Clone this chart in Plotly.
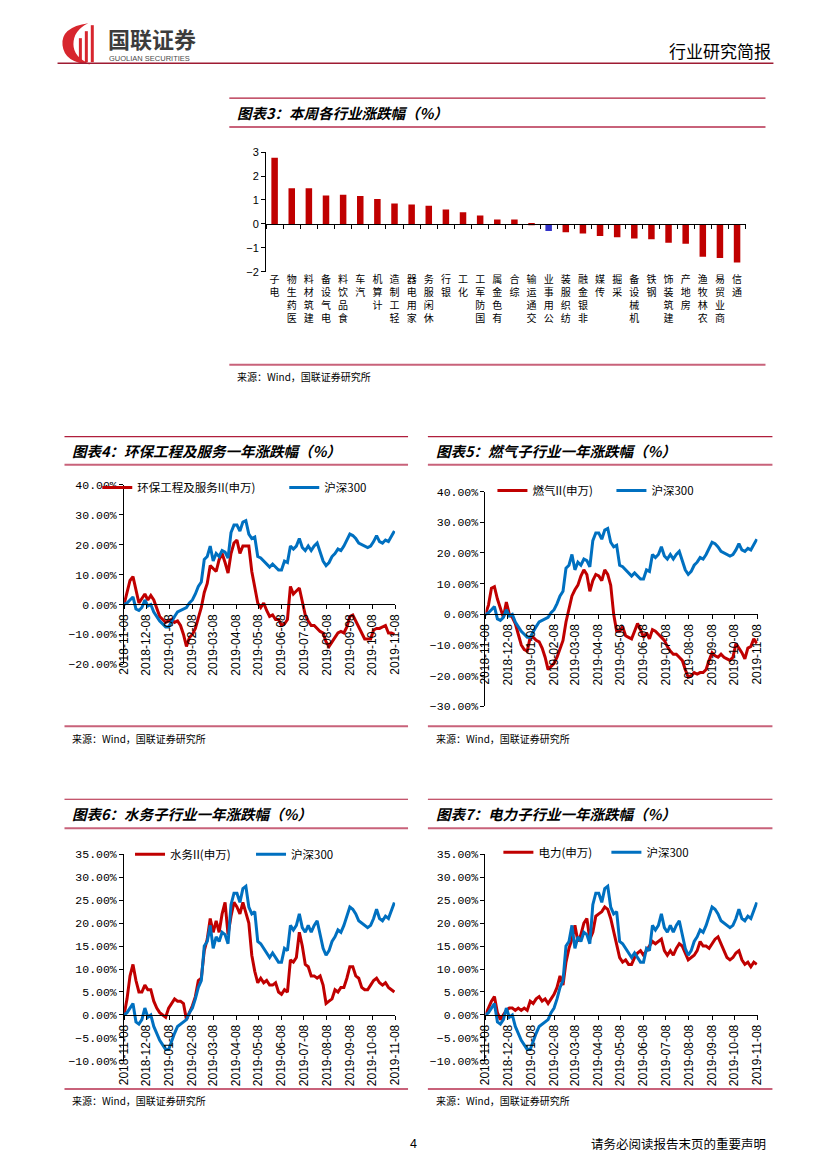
import plotly.graph_objects as go
import pandas as pd

W, H = 827, 1169

# ---------------- data: chart 3 (weekly change by industry, %) ----------------
industries = ["电子", "医药生物", "建筑材料", "电气设备", "食品饮料", "汽车", "计算机",
              "轻工制造", "家用电器", "休闲服务", "银行", "化工", "国防军工", "有色金属",
              "综合", "交通运输", "公用事业", "纺织服装", "非银金融", "传媒", "采掘",
              "机械设备", "钢铁", "建筑装饰", "房地产", "农林牧渔", "商业贸易", "通信"]
weekly_change = [2.76, 1.49, 1.49, 1.19, 1.22, 1.17, 1.04, 0.85, 0.81, 0.76, 0.60, 0.49,
                 0.35, 0.19, 0.19, -0.05, -0.29, -0.35, -0.40, -0.50, -0.55, -0.61, -0.64,
                 -0.78, -0.83, -1.37, -1.42, -1.61]
highlight_industry = "公用事业"

# ---------------- data: one-year change (%), sampled every 4 days ----------------
sample_dates = pd.date_range("2018-11-08", periods=92, freq="4D")
month_ticks = ["2018-11-08", "2018-12-08", "2019-01-08", "2019-02-08", "2019-03-08",
               "2019-04-08", "2019-05-08", "2019-06-08", "2019-07-08", "2019-08-08",
               "2019-09-08", "2019-10-08", "2019-11-08"]

hs300 = [0, 0.5, 1.5, 2.5, -1.5, -2, -1, 1.5, -0.5, 0,
         -2.5, -4, -5.5, -6.5, -7.5, -7.5, -5.5, -4, -2.5, -2,
         -1.5, -1, 0.5, 1.5, 3.5, 6, 7.5, 15, 16, 19.5,
         14.5, 17, 16, 18, 17.5, 15.5, 24, 26.5, 26.5, 24.5,
         27.5, 28, 23.5, 22, 22.5, 16, 15.5, 14.5, 13.5, 12.5,
         13.5, 12.5, 11.5, 11.5, 14.5, 14, 19.5, 18.5, 19.5, 22,
         19, 18, 19.5, 18, 19.5, 20.5, 17.5, 14.5, 13, 14,
         16, 17, 18.5, 18, 19.5, 21.5, 23.5, 23, 22, 20.5,
         20, 19.5, 19, 19.5, 21, 23, 21, 20.5, 21.5, 21,
         23, 24.5]

huanbao = [0, 4, 8, 9.3, 4.5, 0.5, 2, 3.5, 1.5, 3,
           1.5, -1.5, -4, -5, -6, -5.5, -5, -6, -5.5, -7,
           -10, -14, -11, -10, -8, -4.5, -1, 4, 7, 13,
           12, 11, 15, 17, 14, 10.5, 17, 20.5, 21.5, 17,
           19.5, 19.5, 19.5, 11, 5, 0.5, -1, 0.5, -2, -4,
           -3.5, -5, -5, -7, -6.5, -5, 6, 3.5, 4.5, 5.5,
           1, -3.5, -5.5, -7, -7, -8, -9, -9.5, -12.5, -14,
           -12.5, -11, -9.5, -9, -9.5, -7.5, -4, -3.5, -5.5, -7.5,
           -9.5, -11.5, -11.5, -11.5, -8.5, -8, -8, -7.5, -7, -9.5,
           -9.5, -10]

ranqi = [0, 3, 8.5, 9, 5, 2, -1, 4, 0, -1,
         -3, -6.5, -10, -11.5, -12, -7.5, -7.5, -8.5, -9, -11,
         -14, -18, -17, -16, -14, -11.5, -8.5, -2.5, 1.5, 6,
         8, 9.5, 12.5, 14.5, 13, 7.5, 11, 13, 12.5, 11,
         14.5, 13, 9.5, 0, -5.5, -5.5, -4, -7, -7.5, -8,
         -5.5, -3, -5, -7.5, -6, -8, -5, -5.5, -6.5, -7.5,
         -8.5, -10.5, -12, -13, -13, -14, -15, -18, -20.5, -20,
         -19, -19.5, -19, -19, -18, -15, -12.5, -13.5, -14, -13,
         -14, -14.5, -15, -14, -9.5, -11, -12.5, -14.5, -11, -10.5,
         -8, -9.5]

shuiwu = [0, 3.5, 8.5, 11, 7.5, 5, 5, 6.5, 5.5, 5.5,
          3, 1.5, 0.5, 0, -0.5, 1.5, 2.5, 3.5, 3, 3,
          2.5, -1, 0.5, 2, 4, 7.5, 8, 14, 16.5, 21,
          18, 20.5, 18, 22, 24.5, 17.5, 21.5, 24.5, 23.5, 22,
          24.5, 22.5, 20, 13, 9.5, 7, 8, 7, 7.5, 6.5,
          6.5, 7, 5, 4.5, 5.5, 5, 12, 11.5, 12.5, 18,
          15, 11, 10.5, 8.5, 8.5, 8, 8.5, 6.5, 2.5, 3,
          3.5, 5.5, 5, 6, 6, 8, 10.5, 10.5, 8.5, 8,
          6, 5.5, 5.5, 6.5, 7.5, 8, 7, 6.5, 7, 6,
          5.5, 5]

dianli = [0, 1.5, 3, 4, 0.5, -1, 0, 1, 1.5, 1.5,
          1, 1.5, 1, 1.5, 1, 3, 2.5, 3.5, 4, 3,
          3.5, 2.5, 3.5, 4.5, 6, 8.5, 6.5, 11.5, 14.5, 16.5,
          19.5, 16, 17.5, 20, 21, 16.5, 18, 21.5, 22, 22.5,
          23.5, 23, 21, 18, 15.5, 12.5, 11.5, 12, 11, 11,
          12.5, 13.5, 14, 13, 14, 15, 16, 15.5, 16, 16.5,
          14, 13, 14, 13, 14.5, 15.5, 15, 13.5, 12, 12.5,
          13, 14, 16, 15, 15, 14.5, 15.5, 16.5, 17, 15.5,
          14, 12.5, 12, 12.5, 13.5, 14, 12, 11, 11.5, 10.5,
          11.5, 11]

RED = "#C00000"
BLUE = "#0070C0"
BAR_BLUE = "#3232C8"
LINE_RED = "#B01E3C"
LINE_PINK = "#C8627A"
CJK = "Noto Sans CJK SC"

# page-coordinate calibration (slight expansion about the page centre)
S = 1.01
CX, CY = W / 2, H / 2


def px(x):
    return (CX + (x - CX) * S) / W


def py(y):
    return 1 - (CY + (y - CY) * S) / H


fig = go.Figure()
shapes = []
annotations = []


def hline(x0, x1, y, color, width):
    shapes.append(dict(type="line", xref="paper", yref="paper", x0=px(x0), x1=px(x1),
                       y0=py(y), y1=py(y), line=dict(color=color, width=width)))


def text(x, y, s, size, color="black", xanchor="left", family=CJK):
    annotations.append(dict(xref="paper", yref="paper", x=px(x), y=py(y), text=s,
                            showarrow=False, xanchor=xanchor, yanchor="middle",
                            font=dict(size=size, color=color, family=family)))


# ---------------- header ----------------
logo = "M {0} {1} Q {2} {3} {4} {5} Q {6} {7} {8} {9} Q {10} {11} {12} {13} Q {14} {15} {0} {1} Z".format(
    px(86), py(23), px(58), py(27), px(60), py(45), px(62), py(63), px(88), py(64),
    px(71), py(57), px(71), py(44), px(71), py(30))
shapes.append(dict(type="path", xref="paper", yref="paper", path=logo,
                   fillcolor="#D7262E", line=dict(width=0)))
for bx, top in [(78, 38), (84, 31), (90, 25)]:
    shapes.append(dict(type="line", xref="paper", yref="paper", x0=px(bx), x1=px(bx),
                       y0=py(top), y1=py(62), line=dict(color="#D7262E", width=3)))
text(104, 38, "<b>国联证券</b>", 22, color="#3C3C3C")
text(105, 58.5, "GUOLIAN SECURITIES", 7.5, color="#4A4A4A", family="Liberation Sans")
text(776, 50, "行业研究简报", 17, xanchor="right")
hline(55, 776, 63, "#9E1B32", 1.5)

# ---------------- section frames ----------------
sections = [
    (228, 768, 98, 127, 365, "图表3：本周各行业涨跌幅（%）"),
    (62, 408, 437, 465, 727, "图表4：环保工程及服务一年涨跌幅（%）"),
    (428, 775, 437, 465, 727, "图表5：燃气子行业一年涨跌幅（%）"),
    (62, 408, 800, 829, 1090, "图表6：水务子行业一年涨跌幅（%）"),
    (428, 775, 800, 829, 1090, "图表7：电力子行业一年涨跌幅（%）"),
]
for x0, x1, ytop, ybot, ysrc, title in sections:
    hline(x0, x1, ytop, LINE_RED, 1.2)
    hline(x0, x1, ybot, LINE_PINK, 2)
    hline(x0, x1, ysrc, LINE_PINK, 2)
    text(x0 + 6, (ytop + ybot) / 2, "<b><i>" + title + "</i></b>", 14.5)
    text(x0 + 6, ysrc + 12, "来源：Wind，国联证券研究所", 10)

# footer
text(413, 1145, "4", 12.5, xanchor="center", family="Liberation Sans")
text(771, 1145, "请务必阅读报告末页的重要声明", 12.5, xanchor="right")

# ---------------- chart 3: bars ----------------
bar_colors = [BAR_BLUE if c == highlight_industry else RED for c in industries]
fig.add_trace(go.Bar(x=industries, y=weekly_change, marker_color=bar_colors,
                     marker_line_width=0, xaxis="x", yaxis="y", showlegend=False))
fig.add_trace(go.Scatter(x=industries, y=[None] * len(industries), mode="lines",
                         xaxis="x2", yaxis="y", showlegend=False, hoverinfo="skip"))

bar_xdom = [px(265), px(748)]
bar_ydom = [py(272), py(152)]
bar_lo, bar_hi = -2, 3
bar_zero = bar_ydom[0] + (0 - bar_lo) / (bar_hi - bar_lo) * (bar_ydom[1] - bar_ydom[0])
stacked = ["<br>".join(reversed(list(c))) for c in industries]

layout_axes = dict(
    xaxis=dict(domain=bar_xdom, type="category", range=[-0.5, len(industries) - 0.5],
               anchor="y", showline=False, ticks="", tickvals=industries, ticktext=stacked,
               tickangle=0, tickfont=dict(size=10, family=CJK), showgrid=False,
               zeroline=False, fixedrange=True),
    xaxis2=dict(domain=bar_xdom, type="category", range=[-0.5, len(industries) - 0.5],
                overlaying="x", anchor="free", position=bar_zero, showline=True,
                linecolor="black", linewidth=1, ticks="outside", ticklen=4,
                tickcolor="black", tickson="boundaries", showticklabels=False,
                showgrid=False, zeroline=False),
    yaxis=dict(domain=bar_ydom, range=[bar_lo, bar_hi], dtick=1, anchor="x", showline=True,
               linecolor="black", linewidth=1, ticks="outside", ticklen=4, tickcolor="black",
               showgrid=False, zeroline=False, tickfont=dict(size=11, family="Liberation Sans")),
)

# ---------------- line charts ----------------
panels = [
    dict(k=3, xr=(122, 395), yr=(485, 665), lo=-20, hi=40, dtick=10,
         name="环保工程及服务II(申万)", vals=huanbao, leg="legend", lx=103, ly=488, ew=142),
    dict(k=4, xr=(486, 760), yr=(492, 707), lo=-30, hi=40, dtick=10,
         name="燃气II(申万)", vals=ranqi, leg="legend2", lx=501, ly=491, ew=74),
    dict(k=5, xr=(122, 395), yr=(855, 1062), lo=-10, hi=35, dtick=5,
         name="水务II(申万)", vals=shuiwu, leg="legend3", lx=136, ly=855, ew=76),
    dict(k=6, xr=(486, 760), yr=(855, 1062), lo=-10, hi=35, dtick=5,
         name="电力(申万)", vals=dianli, leg="legend4", lx=507, ly=853, ew=63),
]
legends = {}
for p in panels:
    k = p["k"]
    xa, ya = "x%d" % k, "y%d" % k
    fig.add_trace(go.Scatter(x=sample_dates, y=p["vals"], mode="lines", name=p["name"],
                             line=dict(color=RED, width=3), xaxis=xa, yaxis=ya,
                             legend=p["leg"]))
    fig.add_trace(go.Scatter(x=sample_dates, y=hs300, mode="lines", name="沪深300",
                             line=dict(color=BLUE, width=3), xaxis=xa, yaxis=ya,
                             legend=p["leg"]))
    xdom = [px(p["xr"][0]), px(p["xr"][1])]
    ydom = [py(p["yr"][1]), py(p["yr"][0])]
    zero = ydom[0] + (0 - p["lo"]) / (p["hi"] - p["lo"]) * (ydom[1] - ydom[0])
    layout_axes["xaxis%d" % k] = dict(
        domain=xdom, type="date", range=[month_ticks[0], month_ticks[-1]],
        anchor="free", position=zero, showline=True, linecolor="black", linewidth=1,
        ticks="outside", ticklen=4, tickcolor="black", tickvals=month_ticks,
        ticktext=month_ticks, tickangle=-90,
        tickfont=dict(size=12, family="Liberation Sans"), showgrid=False, zeroline=False)
    layout_axes["yaxis%d" % k] = dict(
        domain=ydom, range=[p["lo"], p["hi"]], dtick=p["dtick"], anchor=xa,
        showline=True, linecolor="black", linewidth=1, ticks="outside", ticklen=4,
        tickcolor="black", tickformat=".2f", ticksuffix="%", showgrid=False,
        zeroline=False, tickfont=dict(size=11.5, family="Liberation Mono"))
    legends[p["leg"]] = dict(x=px(p["lx"] - 8), y=py(p["ly"]), xanchor="left",
                             yanchor="middle", orientation="h", bgcolor="rgba(0,0,0,0)",
                             borderwidth=0, entrywidth=p["ew"], entrywidthmode="pixels",
                             font=dict(size=11.5, family=CJK, color="black"),
                             itemclick=False, itemdoubleclick=False)

fig.update_layout(
    width=W, height=H, autosize=False,
    margin=dict(l=0, r=0, t=0, b=0),
    paper_bgcolor="white", plot_bgcolor="white",
    font=dict(family=CJK, color="black"),
    bargap=0.62,
    shapes=shapes, annotations=annotations,
    **layout_axes, **legends,
)

fig.write_html("out.html", config={"displayModeBar": False},
               post_script="document.body.style.margin='0px';document.body.style.overflow='hidden';")
